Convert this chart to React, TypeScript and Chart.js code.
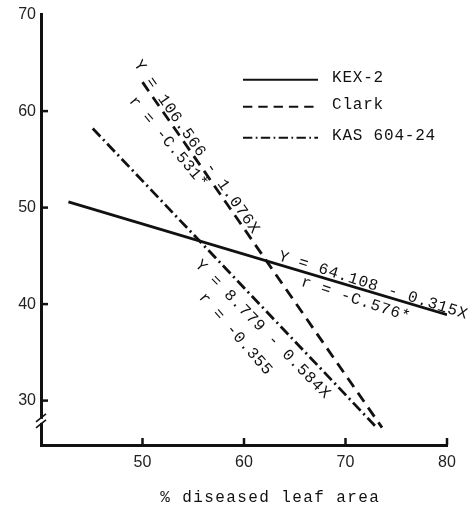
import React, { useEffect, useRef } from "react";
import { Chart, registerables } from "chart.js";

Chart.register(...registerables);

// ---- data ----
const xTicks = [50, 60, 70, 80];
const yTicks = [30, 40, 50, 60, 70];
const seriesNames = ["KEX-2", "Clark", "KAS 604-24"];
const kexX = [42.7, 80.0];
const kexY = [50.6, 38.9];
const clarkX = [50.0, 73.6];
const clarkY = [63.0, 27.2];
const kasX = [45.1, 72.9];
const kasY = [58.2, 27.4];
const equationTexts = [
  "Y = 106.566 - 1.076X",
  "r = -C.531*",
  "Y = 64.108 - 0.315X",
  "r = -C.576*",
  "Y = 8.779 - 0.584X",
  "r = -0.355",
];
const xTitle = "% diseased leaf area";

// ---- layout / style ----
const INK = "#111";
const MONO = '"Liberation Mono", "DejaVu Sans Mono", monospace';
const annotationPlacement = [
  { x: 49.46, y: 65.1, angle: 55 },
  { x: 48.93, y: 61.3, angle: 50 },
  { x: 63.45, y: 45.0, angle: 17.4 },
  { x: 65.68, y: 42.34, angle: 18.3 },
  { x: 55.41, y: 44.3, angle: 45.7 },
  { x: 55.81, y: 40.95, angle: 49 },
];
const legendAnchor = { x: 59.9, y: 63.26 };
const legendRowOffsets = [0, 27, 58];
const lineDashes = [[], [11, 7], [11, 4, 2, 4]];

const toPts = (xs: number[], ys: number[]) => xs.map((v, i) => ({ x: v, y: ys[i] }));

const overlay = {
  id: "overlay",
  afterDraw(chart: any) {
    const { ctx } = chart;
    const xs = chart.scales.x;
    const ys = chart.scales.y;
    ctx.save();
    ctx.strokeStyle = INK;
    ctx.fillStyle = INK;

    // tick marks (inside)
    ctx.lineWidth = 2.5;
    for (const v of yTicks) {
      if (v >= 70) continue;
      const py = ys.getPixelForValue(v);
      ctx.beginPath();
      ctx.moveTo(xs.left, py);
      ctx.lineTo(xs.left + 7, py);
      ctx.stroke();
    }
    for (const v of xTicks) {
      const px = xs.getPixelForValue(v);
      ctx.beginPath();
      ctx.moveTo(px, ys.bottom);
      ctx.lineTo(px, ys.bottom - 7);
      ctx.stroke();
    }

    // axis break
    const by = ys.getPixelForValue(27.9);
    ctx.fillStyle = "#fff";
    ctx.fillRect(xs.left - 3, by - 2, 6, 4);
    ctx.fillStyle = INK;
    ctx.lineWidth = 1.6;
    for (const off of [-3, 3]) {
      ctx.beginPath();
      ctx.moveTo(xs.left - 5, by + off + 4);
      ctx.lineTo(xs.left + 5, by + off - 4);
      ctx.stroke();
    }

    // equations
    ctx.font = `16px ${MONO}`;
    (ctx as any).letterSpacing = "0.8px";
    ctx.textAlign = "left";
    ctx.textBaseline = "middle";
    annotationPlacement.forEach((a, i) => {
      ctx.save();
      ctx.translate(xs.getPixelForValue(a.x), ys.getPixelForValue(a.y));
      ctx.rotate((a.angle * Math.PI) / 180);
      ctx.fillText(equationTexts[i], 0, 0);
      ctx.restore();
    });

    // legend
    const lx = xs.getPixelForValue(legendAnchor.x);
    const ly = ys.getPixelForValue(legendAnchor.y);
    seriesNames.forEach((name, i) => {
      const yy = ly + legendRowOffsets[i];
      ctx.save();
      ctx.lineWidth = 2;
      ctx.setLineDash(lineDashes[i].length ? lineDashes[i].map((d) => d * 0.85) : []);
      ctx.beginPath();
      ctx.moveTo(lx, yy);
      ctx.lineTo(lx + 75, yy);
      ctx.stroke();
      ctx.restore();
      ctx.fillText(name, lx + 89, yy - 1.5);
    });

    // x axis title
    (ctx as any).letterSpacing = "1.4px";
    ctx.fillText(xTitle, xs.getPixelForValue(51.75), 498);
    (ctx as any).letterSpacing = "0px";
    ctx.restore();
  },
};

export default function App() {
  const ref = useRef<HTMLCanvasElement | null>(null);
  useEffect(() => {
    if (!ref.current) return;
    const chart = new Chart(ref.current, {
      type: "scatter",
      data: {
        datasets: [
          { label: seriesNames[0], data: toPts(kexX, kexY), borderDash: lineDashes[0] },
          { label: seriesNames[1], data: toPts(clarkX, clarkY), borderDash: lineDashes[1] },
          { label: seriesNames[2], data: toPts(kasX, kasY), borderDash: lineDashes[2] },
        ].map((d) => ({
          ...d,
          showLine: true,
          borderColor: INK,
          backgroundColor: INK,
          borderWidth: 2.8,
          pointRadius: 0,
          pointHoverRadius: 0,
          fill: false,
        })),
      },
      options: {
        responsive: false,
        animation: false,
        events: [],
        layout: { padding: { top: 9, right: 29, left: 0, bottom: 0 } },
        plugins: { legend: { display: false }, tooltip: { enabled: false }, title: { display: false } },
        scales: {
          x: {
            type: "linear",
            min: 40,
            max: 80,
            afterBuildTicks: (s: any) => {
              s.ticks = xTicks.map((v) => ({ value: v }));
            },
            afterFit: (s: any) => {
              s.height = 69;
            },
            grid: { display: true, drawOnChartArea: false, drawTicks: false },
            border: { display: true, color: INK, width: 3 },
            ticks: {
              padding: 8,
              color: "#222",
              font: { family: '"Liberation Sans", Arial, sans-serif', size: 16 },
              maxRotation: 0,
            },
          },
          y: {
            type: "linear",
            min: 25.4,
            max: 70,
            afterBuildTicks: (s: any) => {
              s.ticks = yTicks.map((v) => ({ value: v }));
            },
            afterFit: (s: any) => {
              s.width = 41;
            },
            grid: { display: true, drawOnChartArea: false, drawTicks: false },
            border: { display: true, color: INK, width: 3 },
            ticks: {
              padding: 5,
              color: "#222",
              font: { family: '"Liberation Sans", Arial, sans-serif', size: 16 },
            },
          },
        },
      },
      plugins: [overlay],
    } as any);
    return () => chart.destroy();
  }, []);
  return (
    <div style={{ position: "fixed", left: 0, top: 0, width: 476, height: 514, background: "#fff" }}>
      <canvas ref={ref} width={476} height={514} style={{ width: 476, height: 514 }} />
    </div>
  );
}
